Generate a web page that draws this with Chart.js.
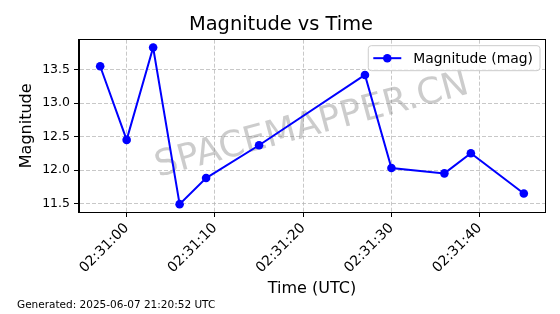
<!DOCTYPE html>
<html lang="en">
<head>
<meta charset="UTF-8">
<title>Magnitude vs Time</title>
<script src="https://cdn.jsdelivr.net/npm/chart.js"></script>
<style>
    html, body {
        margin: 0;
        padding: 0;
        background: #fff;
    }
    #wrap {
        width: 560px;
        height: 314px;
    }
</style>
</head>
<body>
<div id="wrap"><canvas id="magChart"></canvas></div>
<script>
    const obsTimes = ['02:30:57', '02:31:00', '02:31:03', '02:31:06', '02:31:09', '02:31:15',
                      '02:31:27', '02:31:30', '02:31:36', '02:31:39', '02:31:45'];
    const magnitudes = [13.55, 12.45, 13.83, 11.49, 11.88, 12.37, 13.42, 12.03, 11.95, 12.25, 11.65];
    const xTickTimes = ['02:31:00', '02:31:10', '02:31:20', '02:31:30', '02:31:40'];
    const yTicks = [11.5, 12.0, 12.5, 13.0, 13.5];
    const seriesLabel = 'Magnitude (mag)';
    const generatedText = 'Generated: 2025-06-07 21:20:52 UTC';
    const watermark = 'SPACEMAPPER.CN';

    const FONT = "'DejaVu Sans', sans-serif";
    const BASE = 2 * 3600 + 31 * 60;   // seconds of 02:31:00

    function toSec(t) {
        const p = t.split(':').map(Number);
        return p[0] * 3600 + p[1] * 60 + p[2] - BASE;
    }
    function fmt(s) {
        let v = Math.round(s + BASE);
        const h = Math.floor(v / 3600), m = Math.floor((v % 3600) / 60), sec = v % 60;
        return [h, m, sec].map(n => String(n).padStart(2, '0')).join(':');
    }

    const points = obsTimes.map((t, i) => ({ x: toSec(t), y: magnitudes[i] }));
    const xTickVals = xTickTimes.map(toSec);

    // matplotlib-like 5% margins
    function padRange(vals) {
        const lo = Math.min(...vals), hi = Math.max(...vals);
        const m = (hi - lo) * 0.05;
        return [lo - m, hi + m];
    }
    const [xMin, xMax] = padRange(points.map(p => p.x));
    const [yMin, yMax] = padRange(magnitudes);

    // frame, watermark, legend and footer text
    const extras = {
        id: 'extras',
        beforeDatasetsDraw(chart) {
            const ctx = chart.ctx, a = chart.chartArea;
            ctx.save();
            ctx.translate((a.left + a.right) / 2, (a.top + a.bottom) / 2);
            ctx.rotate(-15 * Math.PI / 180);
            ctx.font = '36px ' + FONT;
            ctx.fillStyle = 'rgba(128,128,128,0.4)';
            ctx.textAlign = 'center';
            ctx.textBaseline = 'middle';
            ctx.fillText(watermark, 0, 0);
            ctx.restore();
        },
        afterDraw(chart) {
            const ctx = chart.ctx, a = chart.chartArea;
            ctx.save();
            ctx.strokeStyle = '#000';
            ctx.lineWidth = 1;
            ctx.strokeRect(Math.round(a.left) - 0.5, Math.round(a.top) - 0.5,
                Math.round(a.right - a.left) + 1, Math.round(a.bottom - a.top) + 1);

            // legend
            ctx.font = '13.9px ' + FONT;
            const tw = ctx.measureText(seriesLabel).width;
            const w = tw + 52, h = 25;
            const x0 = a.right - 5 - w, y0 = a.top + 6;
            ctx.beginPath();
            ctx.roundRect(x0, y0, w, h, 3);
            ctx.fillStyle = 'rgba(255,255,255,0.8)';
            ctx.fill();
            ctx.strokeStyle = '#cccccc';
            ctx.stroke();
            const cy = y0 + h / 2;
            ctx.strokeStyle = '#0000ff';
            ctx.lineWidth = 2;
            ctx.beginPath();
            ctx.moveTo(x0 + 5, cy);
            ctx.lineTo(x0 + 33, cy);
            ctx.stroke();
            ctx.fillStyle = '#0000ff';
            ctx.beginPath();
            ctx.arc(x0 + 19, cy, 4.3, 0, Math.PI * 2);
            ctx.fill();
            ctx.fillStyle = '#000';
            ctx.textBaseline = 'middle';
            ctx.fillText(seriesLabel, x0 + 45, cy + 1);

            // footer
            ctx.font = '10.5px ' + FONT;
            ctx.textBaseline = 'middle';
            ctx.fillText(generatedText, 17, 305);
            ctx.restore();
        }
    };

    const gridOpts = {
        color: 'rgba(176,176,176,0.7)',
        lineWidth: 1,
        tickColor: '#000',
        tickLength: 5,
        tickBorderDash: []
    };
    const borderOpts = { display: true, color: '#000', width: 1, dash: [4, 2] };

    new Chart(document.getElementById('magChart'), {
        type: 'line',
        data: {
            datasets: [{
                label: seriesLabel,
                data: points,
                borderColor: '#0000ff',
                backgroundColor: '#0000ff',
                borderWidth: 2,
                pointRadius: 4.3,
                pointHoverRadius: 4.3,
                pointBorderWidth: 0,
                tension: 0
            }]
        },
        options: {
            responsive: true,
            maintainAspectRatio: false,
            animation: false,
            events: [],
            layout: { padding: { left: 17, right: 15, top: 0, bottom: 16 } },
            plugins: {
                legend: { display: false },
                tooltip: { enabled: false },
                title: {
                    display: true,
                    text: 'Magnitude vs Time',
                    color: '#000',
                    font: { family: FONT, size: 19.4, weight: 'normal' },
                    padding: { top: 13, bottom: 3.4 }
                }
            },
            scales: {
                x: {
                    type: 'linear',
                    min: xMin,
                    max: xMax,
                    afterFit: s => { s.height = 86; },
                    afterBuildTicks: s => { s.ticks = xTickVals.map(v => ({ value: v })); },
                    ticks: {
                        callback: v => fmt(v),
                        minRotation: 45,
                        maxRotation: 45,
                        color: '#000',
                        padding: 3,
                        font: { family: FONT, size: 14 }
                    },
                    grid: gridOpts,
                    border: borderOpts,
                    title: {
                        display: true,
                        text: 'Time (UTC)',
                        color: '#000',
                        font: { family: FONT, size: 16 },
                        padding: { top: 0, bottom: 0 }
                    }
                },
                y: {
                    type: 'linear',
                    min: yMin,
                    max: yMax,
                    afterFit: s => { s.width = 62; },
                    afterBuildTicks: s => { s.ticks = yTicks.map(v => ({ value: v })); },
                    ticks: {
                        callback: v => v.toFixed(1),
                        color: '#000',
                        padding: 4,
                        font: { family: FONT, size: 12.5 }
                    },
                    grid: gridOpts,
                    border: borderOpts,
                    title: {
                        display: true,
                        text: 'Magnitude',
                        color: '#000',
                        font: { family: FONT, size: 16 },
                        padding: { top: 0, bottom: 0 }
                    }
                }
            }
        },
        plugins: [extras]
    });
</script>
</body>
</html>
